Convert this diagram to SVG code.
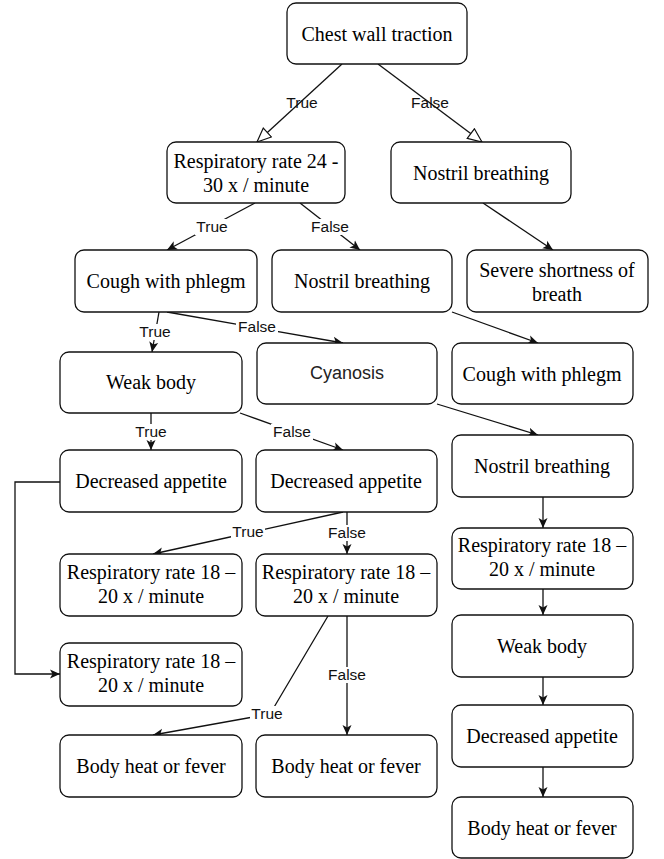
<svg xmlns="http://www.w3.org/2000/svg" width="664" height="859" viewBox="0 0 664 859">
<defs>
<style>
.box{fill:#fff;stroke:#111;stroke-width:1.3}
.t{font-family:"Liberation Serif","Times New Roman",serif;font-size:20px;fill:#000;text-anchor:middle}
.ts{font-family:"Liberation Sans",Arial,sans-serif;font-size:18px;fill:#222;text-anchor:middle}
.e{fill:none;stroke:#111;stroke-width:1.3}
.ea{fill:none;stroke:#111;stroke-width:1.3;marker-end:url(#arr)}
.eo{fill:none;stroke:#111;stroke-width:1.3;marker-end:url(#open)}
.lb{font-family:"Liberation Sans",Arial,sans-serif;font-size:15.5px;fill:#111;text-anchor:middle}
.bg{fill:#fff}
</style>
<marker id="arr" viewBox="0 0 10 10" refX="10" refY="5" markerWidth="10" markerHeight="10" markerUnits="userSpaceOnUse" orient="auto">
<path d="M0,0.5 L10,5 L0,9.5 L2.5,5 z" fill="#111"/>
</marker>
<marker id="open" viewBox="-1 -1 16 14" refX="14" refY="6" markerWidth="16" markerHeight="14" markerUnits="userSpaceOnUse" orient="auto">
<path d="M0,0 L14,6 L0,12 z" fill="#fff" stroke="#111" stroke-width="1.2"/>
</marker>
</defs>
<rect width="664" height="859" fill="#fff"/>

<g id="connectors">
<line class="eo" x1="342" y1="64" x2="257" y2="142"/>
<line class="eo" x1="378" y1="64" x2="482" y2="142"/>
<line class="ea" x1="255" y1="203" x2="167" y2="250"/>
<line class="ea" x1="300" y1="203" x2="360" y2="250"/>
<line class="ea" x1="483" y1="203" x2="553" y2="250"/>
<line class="ea" x1="159" y1="312" x2="152" y2="352"/>
<line class="ea" x1="167" y1="312" x2="343" y2="343"/>
<line class="ea" x1="452" y1="312" x2="538" y2="343"/>
<line class="ea" x1="437" y1="404" x2="538" y2="435"/>
<line class="ea" x1="151" y1="413" x2="151" y2="450"/>
<line class="ea" x1="240" y1="413" x2="343" y2="450"/>
<polyline class="ea" points="60,482 15,482 15,674 60,674"/>
<line class="ea" x1="343" y1="512" x2="153" y2="554"/>
<line class="ea" x1="347" y1="512" x2="347" y2="554"/>
<polyline class="ea" points="328,616 270,714 153,735"/>
<line class="ea" x1="347" y1="616" x2="347" y2="735"/>
<line class="ea" x1="543" y1="497" x2="543" y2="528"/>
<line class="ea" x1="543" y1="589" x2="543" y2="615"/>
<line class="ea" x1="543" y1="677" x2="543" y2="705"/>
<line class="ea" x1="543" y1="767" x2="543" y2="797"/>

<text class="lb" x="302" y="108">True</text>
<text class="lb" x="430" y="108">False</text>
<rect class="bg" x="195" y="219" width="34" height="16"/>
<text class="lb" x="212" y="232">True</text>
<rect class="bg" x="309" y="219" width="42" height="16"/>
<text class="lb" x="330" y="232">False</text>
<rect class="bg" x="138" y="324" width="34" height="16"/>
<text class="lb" x="155" y="337">True</text>
<rect class="bg" x="236" y="319" width="42" height="16"/>
<text class="lb" x="257" y="332">False</text>
<rect class="bg" x="134" y="424" width="34" height="16"/>
<text class="lb" x="151" y="437">True</text>
<rect class="bg" x="271" y="424" width="42" height="16"/>
<text class="lb" x="292" y="437">False</text>
<rect class="bg" x="231" y="524" width="34" height="16"/>
<text class="lb" x="248" y="537">True</text>
<rect class="bg" x="326" y="525" width="42" height="16"/>
<text class="lb" x="347" y="538">False</text>
<rect class="bg" x="250" y="706" width="34" height="16"/>
<text class="lb" x="267" y="719">True</text>
<rect class="bg" x="326" y="667" width="42" height="16"/>
<text class="lb" x="347" y="680">False</text>
</g>

<g id="n1"><rect class="box" x="287" y="3" width="180" height="61" rx="9"/><text class="t" x="377" y="41">Chest wall traction</text></g>
<g id="n2"><rect class="box" x="167" y="142" width="178" height="61" rx="9"/><text class="t" x="256" y="168">Respiratory rate 24 -</text><text class="t" x="256" y="192">30 x / minute</text></g>
<g id="n3"><rect class="box" x="391" y="142" width="180" height="61" rx="9"/><text class="t" x="481" y="180">Nostril breathing</text></g>
<g id="n4"><rect class="box" x="75" y="250" width="182" height="62" rx="9"/><text class="t" x="166" y="288">Cough with phlegm</text></g>
<g id="n5"><rect class="box" x="272" y="250" width="180" height="62" rx="9"/><text class="t" x="362" y="288">Nostril breathing</text></g>
<g id="n6"><rect class="box" x="467" y="250" width="181" height="62" rx="9"/><text class="t" x="557" y="277">Severe shortness of</text><text class="t" x="557" y="301">breath</text></g>
<g id="n7"><rect class="box" x="60" y="352" width="182" height="61" rx="9"/><text class="t" x="151" y="389">Weak body</text></g>
<g id="n8"><rect class="box" x="257" y="343" width="180" height="61" rx="9"/><text class="ts" x="347" y="379">Cyanosis</text></g>
<g id="n9"><rect class="box" x="452" y="343" width="181" height="61" rx="9"/><text class="t" x="542" y="381">Cough with phlegm</text></g>
<g id="n10"><rect class="box" x="60" y="450" width="182" height="62" rx="9"/><text class="t" x="151" y="488">Decreased appetite</text></g>
<g id="n11"><rect class="box" x="256" y="450" width="181" height="62" rx="9"/><text class="t" x="346" y="488">Decreased appetite</text></g>
<g id="n12"><rect class="box" x="452" y="435" width="181" height="62" rx="9"/><text class="t" x="542" y="473">Nostril breathing</text></g>
<g id="n13"><rect class="box" x="60" y="554" width="182" height="62" rx="9"/><text class="t" x="151" y="579">Respiratory rate 18 –</text><text class="t" x="151" y="603">20 x / minute</text></g>
<g id="n14"><rect class="box" x="256" y="554" width="181" height="62" rx="9"/><text class="t" x="346" y="579">Respiratory rate 18 –</text><text class="t" x="346" y="603">20 x / minute</text></g>
<g id="n15"><rect class="box" x="452" y="528" width="181" height="61" rx="9"/><text class="t" x="542" y="552">Respiratory rate 18 –</text><text class="t" x="542" y="576">20 x / minute</text></g>
<g id="n16"><rect class="box" x="60" y="643" width="182" height="63" rx="9"/><text class="t" x="151" y="668">Respiratory rate 18 –</text><text class="t" x="151" y="692">20 x / minute</text></g>
<g id="n17"><rect class="box" x="452" y="615" width="181" height="62" rx="9"/><text class="t" x="542" y="653">Weak body</text></g>
<g id="n18"><rect class="box" x="452" y="705" width="181" height="62" rx="9"/><text class="t" x="542" y="743">Decreased appetite</text></g>
<g id="n19"><rect class="box" x="60" y="735" width="182" height="62" rx="9"/><text class="t" x="151" y="773">Body heat or fever</text></g>
<g id="n20"><rect class="box" x="256" y="735" width="181" height="62" rx="9"/><text class="t" x="346" y="773">Body heat or fever</text></g>
<g id="n21"><rect class="box" x="452" y="797" width="181" height="61" rx="9"/><text class="t" x="542" y="835">Body heat or fever</text></g>
</svg>
